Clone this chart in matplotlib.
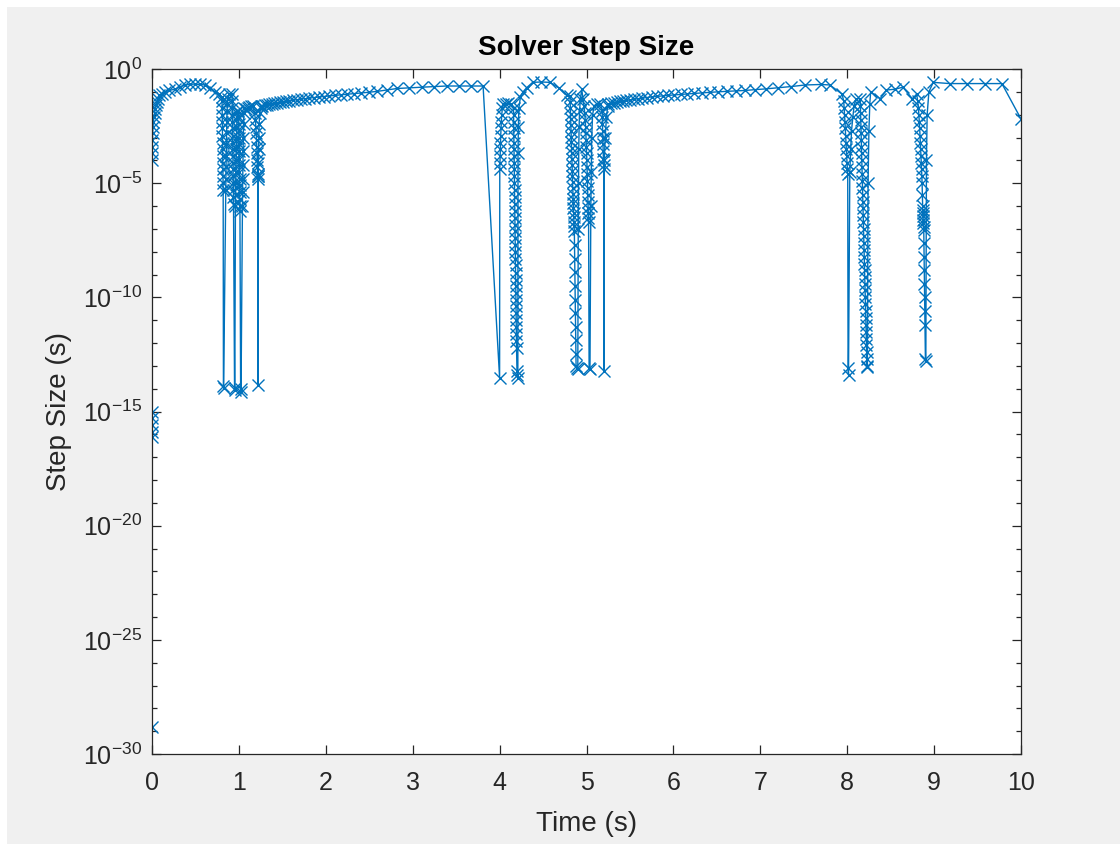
import numpy as np
import matplotlib
matplotlib.use('Agg')
import matplotlib.pyplot as plt
from matplotlib.ticker import FixedLocator, FuncFormatter, NullFormatter
from matplotlib.patches import Rectangle

plt.rcParams['font.family'] = ['Liberation Sans', 'DejaVu Sans']
plt.rcParams['mathtext.fontset'] = 'custom'
plt.rcParams['mathtext.rm'] = 'Liberation Sans'
plt.rcParams['mathtext.it'] = 'Liberation Sans:italic'
plt.rcParams['mathtext.bf'] = 'Liberation Sans:bold'

# ---- data: solver time (s) and step size (s), segment by segment ----
# start-up at t = 0
t_e0 = [0.0, 0.0, 0.0001, 0.0002, 0.0003, 0.0004, 0.0008, 0.0015, 0.003, 0.005,
        0.008, 0.012, 0.017, 0.023, 0.030, 0.038, 0.047, 0.057, 0.068]
h_e0 = [1.6e-29, 8e-17, 1.3e-16, 2.5e-16, 5e-16, 1e-15, 1e-4, 2e-4, 4e-4, 8e-4,
        1.6e-3, 3e-3, 5e-3, 8e-3, 1.2e-2, 1.8e-2, 2.6e-2, 3.5e-2, 5e-2]

t_r0 = [0.08, 0.11, 0.15, 0.20, 0.26, 0.32, 0.38, 0.44, 0.49, 0.55, 0.61, 0.67, 0.72, 0.77, 0.80]
h_r0 = [7e-2, 8e-2, 1e-1, 1.15e-1, 1.3e-1, 1.6e-1, 2e-1, 2.1e-1, 2.2e-1, 2.1e-1, 2e-1, 1.4e-1, 1e-1, 8e-2, 6e-2]

# zero crossings around t = 0.8 .. 1.25
t_e1 = [0.806, 0.807, 0.808, 0.809, 0.810, 0.811, 0.812, 0.813, 0.814, 0.815, 0.816, 0.817, 0.818, 0.819,
        0.822, 0.824,
        0.848, 0.850, 0.852, 0.854, 0.856, 0.858, 0.861, 0.864, 0.868, 0.874, 0.885]
h_e1 = [4e-2, 2e-2, 1e-2, 5e-3, 2.5e-3, 1.2e-3, 6e-4, 3e-4, 1.5e-4, 8e-5, 4e-5, 2e-5, 1e-5, 5e-6,
        1.3e-14, 1.1e-14,
        5e-6, 1.5e-5, 5e-5, 1.5e-4, 5e-4, 1.5e-3, 5e-3, 1.5e-2, 3e-2, 5e-2, 8e-2]

t_e2a = [0.920, 0.922, 0.924, 0.925, 0.926, 0.927, 0.928, 0.929, 0.930, 0.931, 0.932, 0.933, 0.934, 0.935,
         0.936, 0.937, 0.938,
         0.950, 0.953,
         0.960, 0.962, 0.964, 0.966, 0.968, 0.970, 0.972, 0.975, 0.978, 0.982]
h_e2a = [8e-2, 4e-2, 2e-2, 1e-2, 5e-3, 2.5e-3, 1.2e-3, 6e-4, 3e-4, 1.5e-4, 8e-5, 4e-5, 2e-5, 1e-5,
         5e-6, 2.5e-6, 1.2e-6,
         9e-15, 1.1e-14,
         1e-6, 3e-6, 1e-5, 3e-5, 1e-4, 3e-4, 1e-3, 3e-3, 8e-3, 1.5e-2]

t_e2b = [0.995, 0.997, 0.999, 1.000, 1.001, 1.002, 1.003, 1.004, 1.005, 1.006, 1.007, 1.008, 1.009, 1.010,
         1.011, 1.012,
         1.020, 1.025,
         1.040, 1.042, 1.044, 1.046, 1.048, 1.050, 1.053, 1.057, 1.062]
h_e2b = [1.5e-2, 8e-3, 4e-3, 2e-3, 1e-3, 5e-4, 2.5e-4, 1.2e-4, 6e-5, 3e-5, 1.5e-5, 8e-6, 4e-6, 2e-6,
         1e-6, 6e-7,
         7e-15, 1e-14,
         1e-6, 4e-6, 1.5e-5, 6e-5, 2.5e-4, 1e-3, 4e-3, 1.2e-2, 2e-2]

t_e3 = [1.080, 1.100, 1.120, 1.140, 1.160, 1.180, 1.190, 1.195, 1.200, 1.203, 1.206, 1.209, 1.211, 1.213,
        1.215, 1.216, 1.217,
        1.220,
        1.222, 1.224, 1.226, 1.229, 1.233, 1.240, 1.250, 1.260]
h_e3 = [1.8e-2, 2e-2, 2.2e-2, 2.4e-2, 2.5e-2, 1.2e-2, 6e-3, 3e-3, 1.5e-3, 8e-4, 4e-4, 2e-4, 1e-4, 5e-5,
        2.5e-5, 2e-5, 1.5e-5,
        1.4e-14,
        2e-5, 8e-5, 3e-4, 1e-3, 4e-3, 1.2e-2, 2e-2, 2.5e-2]

# smooth stretch 1.27 .. 3.81
t_r1 = [1.270, 1.295, 1.321, 1.348, 1.376, 1.406, 1.437, 1.470, 1.505, 1.542, 1.581, 1.622,
        1.665, 1.710, 1.758, 1.808, 1.861, 1.917, 1.976, 2.038, 2.104, 2.174, 2.248, 2.326,
        2.409, 2.498, 2.594, 2.699, 2.820, 2.960, 3.110, 3.250, 3.390, 3.530, 3.670, 3.810]
h_r1 = [.025, .026, .027, .028, .030, .031, .033, .035, .037, .039, .041, .043,
        .045, .048, .050, .053, .056, .059, .062, .066, .070, .074, .078, .083,
        .089, .096, .105, .120, .140, .150, .160, .170, .180, .180, .180, .180]

# zero crossings around t = 4.0 .. 4.2
t_e4 = [4.000,
        4.002, 4.004, 4.006, 4.008, 4.010, 4.013, 4.016, 4.020, 4.025, 4.032, 4.040,
        4.070, 4.100, 4.130,
        4.160, 4.161, 4.162, 4.163, 4.164, 4.165, 4.166, 4.167, 4.168, 4.169, 4.170, 4.171,
        4.172, 4.173, 4.174, 4.175, 4.176, 4.177, 4.178, 4.179, 4.180, 4.181, 4.182, 4.183,
        4.184, 4.185, 4.186, 4.187, 4.188, 4.189, 4.190, 4.191, 4.192, 4.193, 4.194, 4.195,
        4.200, 4.205, 4.210,
        4.212, 4.216, 4.222]
h_e4 = [3e-14,
        4e-5, 8e-5, 1.5e-4, 3e-4, 6e-4, 1.2e-3, 2.5e-3, 5e-3, 1e-2, 2e-2, 3e-2,
        3e-2, 3.2e-2, 3e-2,
        2e-2, 1e-2, 5e-3, 2.5e-3, 1.2e-3, 6e-4, 3e-4, 1.5e-4, 8e-5, 4e-5, 2e-5, 1e-5,
        5e-6, 2.5e-6, 1.2e-6, 6e-7, 3e-7, 1.5e-7, 8e-8, 4e-8, 2e-8, 1e-8, 5e-9, 2.5e-9,
        1.2e-9, 6e-10, 3e-10, 1.5e-10, 8e-11, 4e-11, 2e-11, 1e-11, 5e-12, 2.5e-12, 1.2e-12, 6e-13,
        6e-14, 4e-14, 3e-14,
        2e-4, 3e-3, 2e-2]

t_r2 = [4.240, 4.270, 4.310, 4.380, 4.480, 4.580, 4.680, 4.770]
h_r2 = [6e-2, 1e-1, 1.5e-1, 2.6e-1, 2.7e-1, 2.6e-1, 1.5e-1, 7e-2]

# zero crossings around t = 4.8 .. 5.2
t_e5 = [4.810, 4.812, 4.814, 4.816, 4.818, 4.820, 4.822, 4.824, 4.826, 4.828, 4.830, 4.832, 4.834,
        4.836, 4.838, 4.840, 4.842, 4.844, 4.846, 4.848, 4.850, 4.852, 4.854, 4.856, 4.858, 4.860,
        4.862, 4.864, 4.866, 4.868, 4.870, 4.872, 4.874, 4.876, 4.878,
        4.880, 4.890, 4.900,
        4.905, 4.908, 4.911, 4.915, 4.920, 4.930, 4.945]
h_e5 = [6.3e-2, 3.5e-2, 2e-2, 1.1e-2, 6.3e-3, 3.5e-3, 2e-3, 1.1e-3, 6.3e-4, 3.5e-4, 2e-4, 1.1e-4, 6.3e-5,
        3.5e-5, 2e-5, 1.1e-5, 6.3e-6, 3.5e-6, 2e-6, 1.3e-6, 8e-7, 5e-7, 3.2e-7, 2e-7, 1.3e-7, 8e-8,
        2e-8, 5e-9, 1.3e-9, 3.2e-10, 8e-11, 2e-11, 5e-12, 1.3e-12, 3.2e-13,
        1e-13, 8e-14, 7e-14,
        1e-7, 1e-5, 3e-4, 3e-3, 1.5e-2, 5e-2, 1.3e-1]

t_e6 = [4.960, 4.970, 4.980, 4.985, 4.990, 4.993, 4.996, 4.999, 5.002, 5.004, 5.006, 5.008, 5.010,
        5.012, 5.014, 5.016, 5.018, 5.020, 5.022, 5.024,
        5.030, 5.040,
        5.050, 5.055, 5.060, 5.070, 5.090]
h_e6 = [5e-2, 2.5e-2, 1.2e-2, 6e-3, 3e-3, 1.5e-3, 8e-4, 4e-4, 2e-4, 1e-4, 5e-5, 2.5e-5, 1.2e-5,
        6e-6, 3e-6, 1.5e-6, 8e-7, 5e-7, 3e-7, 2e-7,
        8e-14, 7e-14,
        1e-6, 3e-5, 1e-3, 1e-2, 2.5e-2]

t_e7 = [5.120, 5.160, 5.180, 5.182, 5.184, 5.186, 5.188, 5.190, 5.192, 5.194, 5.196, 5.198,
        5.200, 5.205, 5.215, 5.230, 5.245]
h_e7 = [3e-2, 3e-2, 1.5e-2, 8e-3, 4e-3, 2e-3, 1e-3, 5e-4, 2.5e-4, 1.2e-4, 6e-5, 4e-5,
        6e-14, 1e-4, 1e-3, 8e-3, 2.5e-2]

# smooth stretch 5.25 .. 7.8
t_r3 = [5.250, 5.280, 5.312, 5.346, 5.382, 5.420, 5.460, 5.502, 5.546, 5.593, 5.643,
        5.696, 5.752, 5.812, 5.875, 5.941, 6.011, 6.084, 6.161, 6.242, 6.327, 6.417,
        6.512, 6.612, 6.717, 6.827, 6.942, 7.067, 7.202, 7.352, 7.520, 7.700, 7.800]
h_r3 = [.030, .032, .034, .036, .038, .040, .042, .044, .047, .050, .053,
        .056, .060, .063, .066, .070, .073, .077, .081, .085, .090, .095,
        .100, .105, .110, .115, .125, .135, .150, .170, .200, .210, .200]

# zero crossings around t = 8.0 .. 8.9
t_e8 = [7.940, 7.960, 7.965, 7.970, 7.974, 7.978, 7.982, 7.986, 7.990, 7.994, 7.998, 8.002, 8.006,
        8.010, 8.015,
        8.030, 8.040, 8.050, 8.065, 8.080, 8.100]
h_e8 = [8e-2, 4e-2, 2e-2, 1e-2, 5e-3, 2.5e-3, 1.2e-3, 6e-4, 3e-4, 1.5e-4, 8e-5, 4e-5, 2.5e-5,
        8e-14, 4e-14,
        3e-5, 3e-4, 2e-3, 8e-3, 2.5e-2, 5e-2]

t_e9 = [8.150, 8.152, 8.154, 8.156, 8.158, 8.160, 8.162, 8.164, 8.166, 8.168, 8.170, 8.172, 8.174,
        8.176, 8.178, 8.180, 8.182, 8.184, 8.186, 8.188, 8.190, 8.192, 8.194, 8.196, 8.198, 8.200,
        8.202, 8.204, 8.206, 8.208, 8.210, 8.212, 8.214, 8.216, 8.218, 8.220, 8.222, 8.224, 8.226,
        8.228, 8.232,
        8.240, 8.250, 8.260, 8.270]
h_e9 = [5e-2, 2.5e-2, 1.2e-2, 6e-3, 3e-3, 1.5e-3, 8e-4, 4e-4, 2e-4, 1e-4, 5e-5, 2.5e-5, 1.2e-5,
        6e-6, 3e-6, 1.5e-6, 8e-7, 4e-7, 2e-7, 1e-7, 5e-8, 2.5e-8, 1.2e-8, 6e-9, 3e-9, 1.5e-9,
        8e-10, 4e-10, 2e-10, 1e-10, 5e-11, 2.5e-11, 1.2e-11, 6e-12, 3e-12, 1.5e-12, 8e-13, 4e-13, 2e-13,
        1e-13, 9e-14,
        1e-5, 2e-3, 3e-2, 1e-1]

t_r4 = [8.380, 8.450, 8.550, 8.640, 8.750]
h_r4 = [5e-2, 1.2e-1, 1.3e-1, 1.6e-1, 5e-2]

t_e10 = [8.800, 8.810, 8.820, 8.825, 8.830, 8.834, 8.838, 8.842, 8.846, 8.850,
         8.853, 8.856, 8.859, 8.862, 8.865, 8.867, 8.869, 8.871, 8.873, 8.875,
         8.877, 8.879, 8.881, 8.883, 8.885, 8.887, 8.889, 8.891, 8.893, 8.895,
         8.900, 8.905,
         8.912, 8.920, 8.940, 8.990]
h_e10 = [8e-2, 4e-2, 2e-2, 1e-2, 5e-3, 2.5e-3, 1.2e-3, 6e-4, 3e-4, 1.5e-4,
         8e-5, 4e-5, 2e-5, 1e-5, 3e-6, 1e-6, 7e-7, 5e-7, 3.5e-7, 2.5e-7,
         1.8e-7, 1.2e-7, 9e-8, 2.5e-8, 6e-9, 1.6e-9, 4e-10, 1e-10, 2.5e-11, 6e-12,
         2e-13, 1.6e-13,
         1e-4, 1e-2, 1e-1, 2.6e-1]

t_end = [9.180, 9.380, 9.590, 9.780, 10.000]
h_end = [2.3e-1, 2.3e-1, 2.3e-1, 2.3e-1, 6.5e-3]

time_s = np.concatenate([t_e0, t_r0, t_e1, t_e2a, t_e2b, t_e3, t_r1, t_e4, t_r2, t_e5,
                         t_e6, t_e7, t_r3, t_e8, t_e9, t_r4, t_e10, t_end])
step_s = np.concatenate([h_e0, h_r0, h_e1, h_e2a, h_e2b, h_e3, h_r1, h_e4, h_r2, h_e5,
                         h_e6, h_e7, h_r3, h_e8, h_e9, h_r4, h_e10, h_end])

# ---- figure ----
fig = plt.figure(figsize=(11.2, 8.44), dpi=100, facecolor='#f0f0f0')
fig.add_artist(Rectangle((0, 1 - 7 / 844), 1, 7 / 844, transform=fig.transFigure,
                         facecolor='white', edgecolor='none'))
fig.add_artist(Rectangle((0, 0), 7 / 1120, 1, transform=fig.transFigure,
                         facecolor='white', edgecolor='none'))
ax = fig.add_axes([152 / 1120, 1 - 754 / 844, (1021 - 152) / 1120, (754 - 69) / 844])

ax.plot(time_s, step_s, '-x', color='#0072BD', lw=1.0, ms=8, mew=1.0)
ax.set_yscale('log')
ax.set_xlim(0, 10)
ax.set_ylim(1e-30, 1)

ax.xaxis.set_major_locator(FixedLocator(range(0, 11)))
ax.yaxis.set_major_locator(FixedLocator([10.0 ** k for k in range(-30, 1, 5)]))
ax.yaxis.set_minor_locator(FixedLocator([10.0 ** k for k in range(-30, 1)]))
ax.yaxis.set_major_formatter(FuncFormatter(lambda v, p: r'$10^{%d}$' % round(np.log10(v))))
ax.yaxis.set_minor_formatter(NullFormatter())

edge = '#262626'
for s in ax.spines.values():
    s.set_color(edge)
    s.set_linewidth(0.9)
ax.tick_params(which='both', direction='in', top=True, right=True, colors=edge,
               labelcolor=edge, width=0.9)
ax.tick_params(which='major', length=6.3, labelsize=18)
ax.tick_params(axis='y', which='major', pad=7)
ax.tick_params(axis='x', which='major', pad=12)
ax.tick_params(which='minor', length=3.6)

ax.set_xlabel('Time (s)', fontsize=20, color=edge, labelpad=12)
ax.set_ylabel('Step Size (s)', fontsize=20, color=edge, labelpad=8)
ax.set_title('Solver Step Size', fontsize=20, fontweight='bold', color='black', pad=10)

fig.savefig('out.png', dpi=100, facecolor=fig.get_facecolor())
